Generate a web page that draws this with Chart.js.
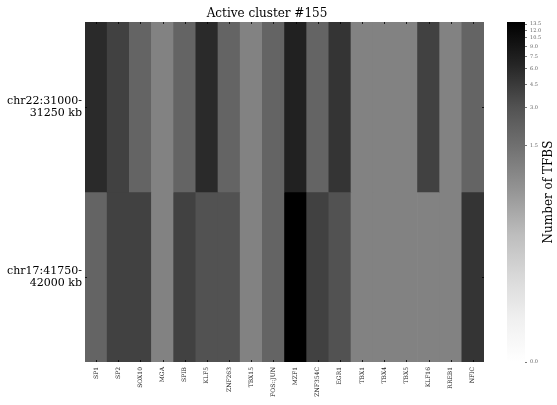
<!DOCTYPE html>
<html>
<head>
<meta charset="utf-8">
<script src="https://cdn.jsdelivr.net/npm/chart.js@4/dist/chart.umd.min.js"></script>
<style>
  html, body { margin: 0; padding: 0; background: #fff; }
  #wrap { position: relative; width: 557px; height: 405px; }
  #wrap canvas { position: absolute; left: 0; top: 0; }
</style>
</head>
<body>
<div id="wrap">
  <canvas id="heat" width="557" height="405"></canvas>
  <canvas id="cbar" width="557" height="405"></canvas>
</div>
<script>
// Transcription factors (columns) and genomic regions (rows)
const factors = ['SP1', 'SP2', 'SOX10', 'MGA', 'SPIB', 'KLF5', 'ZNF263', 'TBX15', 'FOS::JUN',
                 'MZF1', 'ZNF354C', 'EGR1', 'TBX1', 'TBX4', 'TBX5', 'KLF16', 'RREB1', 'NFIC'];
const regionLabels = [['chr22:31000-', '31250 kb'], ['chr17:41750-', '42000 kb']];

// Number of binding sites per factor in each region
const chr22Counts = [6, 4, 2, 1, 2, 6, 2, 1, 2, 7, 2, 5, 1, 1, 1, 4, 1, 2];
const chr17Counts = [2, 4, 4, 1, 4, 3, 3, 1, 2, 14, 4, 3, 1, 1, 1, 1, 1, 5];

// Colour bar tick values
const colorbarTicks = [0, 1.5, 3, 4.5, 6, 7.5, 9, 10.5, 12, 13.5];

const FONT = '"DejaVu Serif", serif';
const vmax = Math.max(...chr22Counts, ...chr17Counts);

// Linear below 1, logarithmic above (symlog-style colour normalisation)
const LIN_SHARE = 0.57;
function norm(v) {
  if (v <= 1) return v * LIN_SHARE;
  return LIN_SHARE + (1 - LIN_SHARE) * Math.log(v) / Math.log(vmax);
}

// "Greys" colormap stops
const GREYS = [255, 240, 217, 189, 150, 115, 82, 37, 0];
function grey(t) {
  t = Math.min(1, Math.max(0, t));
  const p = t * 8;
  const i = Math.min(7, Math.floor(p));
  const f = p - i;
  const g = Math.round(GREYS[i] + (GREYS[i + 1] - GREYS[i]) * f);
  return `rgb(${g},${g},${g})`;
}

const rows = [
  { name: 'chr22', counts: chr22Counts, span: [1, 2] },
  { name: 'chr17', counts: chr17Counts, span: [0, 1] }
];

const titlePlugin = {
  id: 'clusterTitle',
  afterDraw(chart) {
    const ctx = chart.ctx;
    ctx.save();
    ctx.font = '12px ' + FONT;
    ctx.fillStyle = '#000';
    ctx.textAlign = 'center';
    ctx.textBaseline = 'alphabetic';
    ctx.fillText('Active cluster #155', 267, 17);
    ctx.restore();
  }
};

// Small inward tick marks on the heatmap frame
const tickMarks = {
  id: 'tickMarks',
  afterDatasetsDraw(chart) {
    const ctx = chart.ctx;
    const a = chart.chartArea;
    const xs = chart.scales.x, ys = chart.scales.y;
    ctx.save();
    ctx.strokeStyle = 'rgba(0,0,0,0.8)';
    ctx.lineWidth = 1;
    ctx.beginPath();
    xs.ticks.forEach((t, i) => {
      const x = Math.round(xs.getPixelForTick(i)) + 0.5;
      ctx.moveTo(x, a.top); ctx.lineTo(x, a.top + 2);
      ctx.moveTo(x, a.bottom); ctx.lineTo(x, a.bottom - 2);
    });
    ys.ticks.forEach(t => {
      const y = Math.round(ys.getPixelForValue(t.value)) + 0.5;
      ctx.moveTo(a.left, y); ctx.lineTo(a.left + 2, y);
      ctx.moveTo(a.right, y); ctx.lineTo(a.right - 2, y);
    });
    ctx.stroke();
    ctx.restore();
  }
};

new Chart(document.getElementById('heat'), {
  type: 'bar',
  data: {
    labels: factors,
    datasets: rows.map(r => ({
      label: r.name,
      data: r.counts.map(() => r.span),
      backgroundColor: r.counts.map(v => grey(norm(v))),
      borderWidth: 0,
      barPercentage: 1,
      categoryPercentage: 1,
      grouped: false
    }))
  },
  options: {
    responsive: false,
    animation: false,
    devicePixelRatio: 1,
    layout: { padding: { top: 22, right: 73, bottom: 0, left: 0 } },
    plugins: { legend: { display: false }, tooltip: { enabled: false }, title: { display: false } },
    scales: {
      x: {
        type: 'category',
        offset: true,
        grid: { display: false, drawTicks: false },
        border: { display: false },
        ticks: {
          autoSkip: false,
          minRotation: 90,
          maxRotation: 90,
          padding: 5,
          color: '#222',
          font: { family: FONT, size: 6 }
        },
        afterFit(s) { s.height = 43; }
      },
      y: {
        type: 'linear',
        min: 0,
        max: 2,
        grid: { display: false, drawTicks: false },
        border: { display: false },
        afterBuildTicks(s) { s.ticks = [{ value: 1.5 }, { value: 0.5 }]; },
        ticks: {
          autoSkip: false,
          padding: 3,
          color: '#000',
          font: { family: FONT, size: 11, lineHeight: 1.1 },
          callback: (v) => (v > 1 ? regionLabels[0] : regionLabels[1])
        },
        afterFit(s) { s.width = 85; }
      }
    }
  },
  plugins: [titlePlugin, tickMarks]
});

// Colour bar
const cbLabel = {
  id: 'cbLabel',
  afterDraw(chart) {
    const ctx = chart.ctx;
    ctx.save();
    ctx.translate(549, 192);
    ctx.rotate(-Math.PI / 2);
    ctx.font = '12px ' + FONT;
    ctx.fillStyle = '#000';
    ctx.textAlign = 'center';
    ctx.textBaseline = 'middle';
    ctx.fillText('Number of TFBS', 0, 0);
    ctx.restore();
  }
};

new Chart(document.getElementById('cbar'), {
  type: 'bar',
  data: {
    labels: ['colorbar'],
    datasets: [{
      data: [[0, 1]],
      borderWidth: 0,
      barPercentage: 1,
      categoryPercentage: 1,
      backgroundColor(ctx) {
        const a = ctx.chart.chartArea;
        if (!a) return '#888';
        const g = ctx.chart.ctx.createLinearGradient(0, a.bottom, 0, a.top);
        GREYS.forEach((c, i) => g.addColorStop(i / 8, `rgb(${c},${c},${c})`));
        return g;
      }
    }]
  },
  options: {
    responsive: false,
    animation: false,
    devicePixelRatio: 1,
    layout: { padding: { top: 22, right: 0, bottom: 43, left: 507 } },
    plugins: { legend: { display: false }, tooltip: { enabled: false } },
    scales: {
      x: { display: false, offset: true },
      y: {
        position: 'right',
        min: 0,
        max: 1,
        grid: { drawOnChartArea: false, drawTicks: true, tickLength: 2, color: '#777' },
        border: { display: false },
        afterBuildTicks(s) { s.ticks = colorbarTicks.map(v => ({ value: norm(v) })); },
        ticks: {
          autoSkip: false,
          padding: 3,
          color: '#666',
          font: { family: FONT, size: 5 },
          callback: (v, i) => colorbarTicks[i].toFixed(1)
        },
        afterFit(s) { s.width = 32; }
      }
    }
  },
  plugins: [cbLabel]
});
</script>
</body>
</html>
